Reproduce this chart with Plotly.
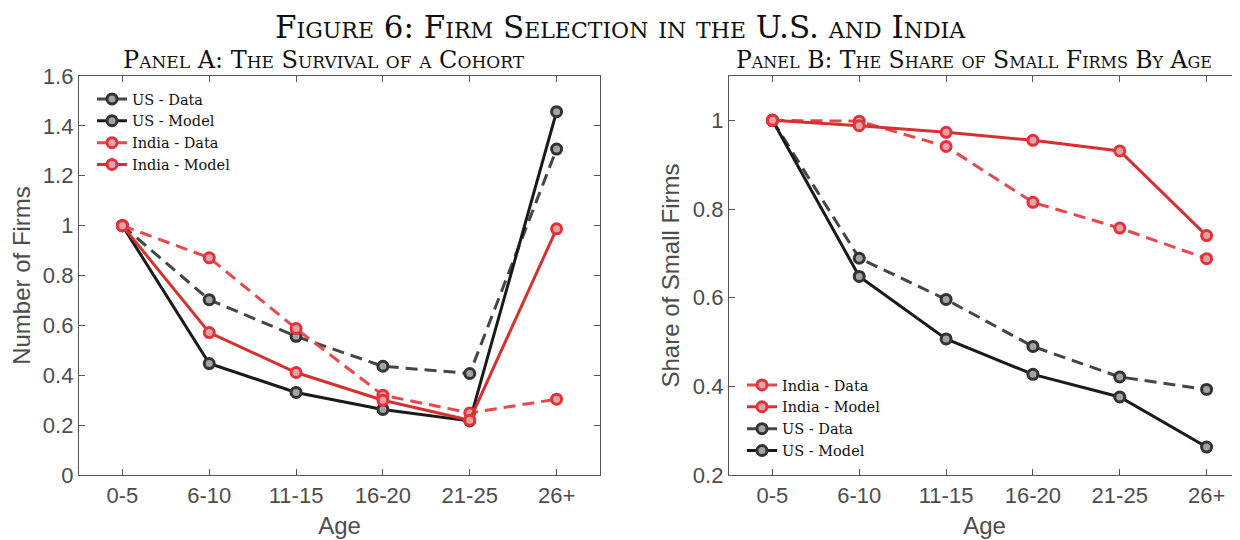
import plotly.graph_objects as go

ages = ["0-5", "6-10", "11-15", "16-20", "21-25", "26+"]

# Panel A: survival of a cohort (number of firms relative to age 0-5)
a_us_data = [1.0, 0.703, 0.556, 0.436, 0.407, 1.307]
a_us_model = [1.0, 0.447, 0.331, 0.263, 0.217, 1.457]
a_in_data = [1.0, 0.871, 0.587, 0.320, 0.249, 0.304]
a_in_model = [1.0, 0.571, 0.411, 0.300, 0.220, 0.987]

# Panel B: share of small firms by age
b_in_data = [1.0, 0.998, 0.941, 0.815, 0.757, 0.688]
b_in_model = [1.0, 0.988, 0.973, 0.955, 0.931, 0.740]
b_us_data = [1.0, 0.689, 0.596, 0.490, 0.421, 0.393]
b_us_model = [1.0, 0.648, 0.507, 0.427, 0.376, 0.263]

a_ticks = [0, 0.2, 0.4, 0.6, 0.8, 1, 1.2, 1.4, 1.6]
b_ticks = [0.2, 0.4, 0.6, 0.8, 1]

# page body has an 8px margin: figure is drawn starting at page (8, 8)
OFF = 8
W, H = 1240 - OFF, 540 - OFF
PL, PR, PT, PB = 79, 1240, 76, 475          # plot area in page pixels
ML, MR, MT, MB = PL - OFF, 0, PT - OFF, H - (PB - OFF)
PW = PR - PL
PH = PB - PT

def px_x(p):
    return (p - PL) / PW

def px_y(p):
    return (PB - p) / PH

styles = {
    "us_data": dict(line=dict(color="#454545", width=3, dash="12px,7px"),
                    marker=dict(size=10, color="#a3a3a3", line=dict(color="#333333", width=3))),
    "us_model": dict(line=dict(color="#1a1a1a", width=3),
                     marker=dict(size=10, color="#a3a3a3", line=dict(color="#333333", width=3))),
    "in_data": dict(line=dict(color="#e8474c", width=3, dash="12px,7px"),
                    marker=dict(size=10, color="#e2a4a6", line=dict(color="#e5323a", width=3))),
    "in_model": dict(line=dict(color="#d63131", width=3),
                     marker=dict(size=10, color="#e2a4a6", line=dict(color="#e5323a", width=3))),
}

x_idx = list(range(len(ages)))
fig = go.Figure()

panel_a = [("US - Data", a_us_data, "us_data", 1), ("US - Model", a_us_model, "us_model", 2),
           ("India - Data", a_in_data, "in_data", 3), ("India - Model", a_in_model, "in_model", 4)]
for name, vals, st, rank in panel_a:
    fig.add_trace(go.Scatter(x=x_idx, y=vals, name=name, mode="lines+markers",
                             xaxis="x", yaxis="y", legend="legend", legendrank=rank,
                             **styles[st]))

panel_b = [("US - Data", b_us_data, "us_data", 3), ("US - Model", b_us_model, "us_model", 4),
           ("India - Data", b_in_data, "in_data", 1), ("India - Model", b_in_model, "in_model", 2)]
for name, vals, st, rank in panel_b:
    fig.add_trace(go.Scatter(x=x_idx, y=vals, name=name, mode="lines+markers",
                             xaxis="x2", yaxis="y2", legend="legend2", legendrank=rank,
                             **styles[st]))

axcol = "#555555"
tickfont = dict(family="Liberation Sans, Arial, sans-serif", size=22, color="#4d4d4d")
titlefont = dict(family="Liberation Sans, Arial, sans-serif", size=24, color="#4d4d4d")

common_x = dict(tickmode="array", tickvals=x_idx, ticktext=ages, showline=True, linecolor=axcol,
                linewidth=1.3, ticks="inside", ticklen=6, tickcolor=axcol, showgrid=False,
                zeroline=False, tickfont=tickfont, fixedrange=True)
common_y = dict(showline=True, linecolor=axcol, linewidth=1.3, ticks="inside", ticklen=6,
                tickcolor=axcol, showgrid=False, zeroline=False, tickfont=tickfont)

dom_a = [0, px_x(600)]
dom_b = [px_x(729), 1]
b_right = 5.5 - (1250 - 1240) / 86.8

legend_font = dict(family="DejaVu Serif, Liberation Serif, serif", size=14.5, color="#111111")

fig.update_layout(
    width=W, height=H,
    margin=dict(l=ML, r=MR, t=MT, b=MB),
    paper_bgcolor="white", plot_bgcolor="white",
    xaxis=dict(domain=dom_a, range=[-0.5, 5.5], mirror="ticks",
               title=dict(text="Age", font=titlefont, standoff=10), **common_x),
    yaxis=dict(domain=[0, 1], range=[0, 1.6], tickvals=a_ticks, mirror="ticks",
               title=dict(text="Number of Firms", font=titlefont, standoff=6), **common_y),
    xaxis2=dict(domain=dom_b, range=[-0.5, b_right], mirror="ticks", anchor="y2",
                title=dict(text="Age", font=titlefont, standoff=10), **common_x),
    yaxis2=dict(domain=[0, 1], range=[0.2, 1.1], tickvals=b_ticks, mirror=False, anchor="x2",
                title=dict(text="Share of Small Firms", font=titlefont, standoff=6), **common_y),
    legend=dict(x=px_x(92), y=px_y(83), xanchor="left", yanchor="top", bgcolor="rgba(0,0,0,0)",
                font=legend_font, itemwidth=30, tracegroupgap=0, traceorder="normal"),
    legend2=dict(x=px_x(742), y=px_y(467), xanchor="left", yanchor="bottom", bgcolor="rgba(0,0,0,0)",
                 font=legend_font, itemwidth=30, tracegroupgap=0, traceorder="normal"),
    showlegend=True,
)

serif = "DejaVu Serif, Liberation Serif, serif"
fig.add_annotation(text="Figure 6: Firm Selection in the U.S. and India", xref="paper", yref="paper",
                   x=px_x(620), y=px_y(OFF), xanchor="center", yanchor="top", showarrow=False,
                   borderpad=0,
                   font=dict(family=serif, size=31, color="#111111", variant="small-caps"))
fig.add_annotation(text="Panel A: The Survival of a Cohort", xref="paper", yref="paper",
                   x=px_x(324), y=px_y(60), xanchor="center", yanchor="middle", showarrow=False,
                   font=dict(family=serif, size=24, color="#111111", variant="small-caps"))
fig.add_annotation(text="Panel B: The Share of Small Firms By Age", xref="paper", yref="paper",
                   x=px_x(974), y=px_y(60), xanchor="center", yanchor="middle", showarrow=False,
                   font=dict(family=serif, size=23.5, color="#111111", variant="small-caps"))

fig.write_html("out.html")
